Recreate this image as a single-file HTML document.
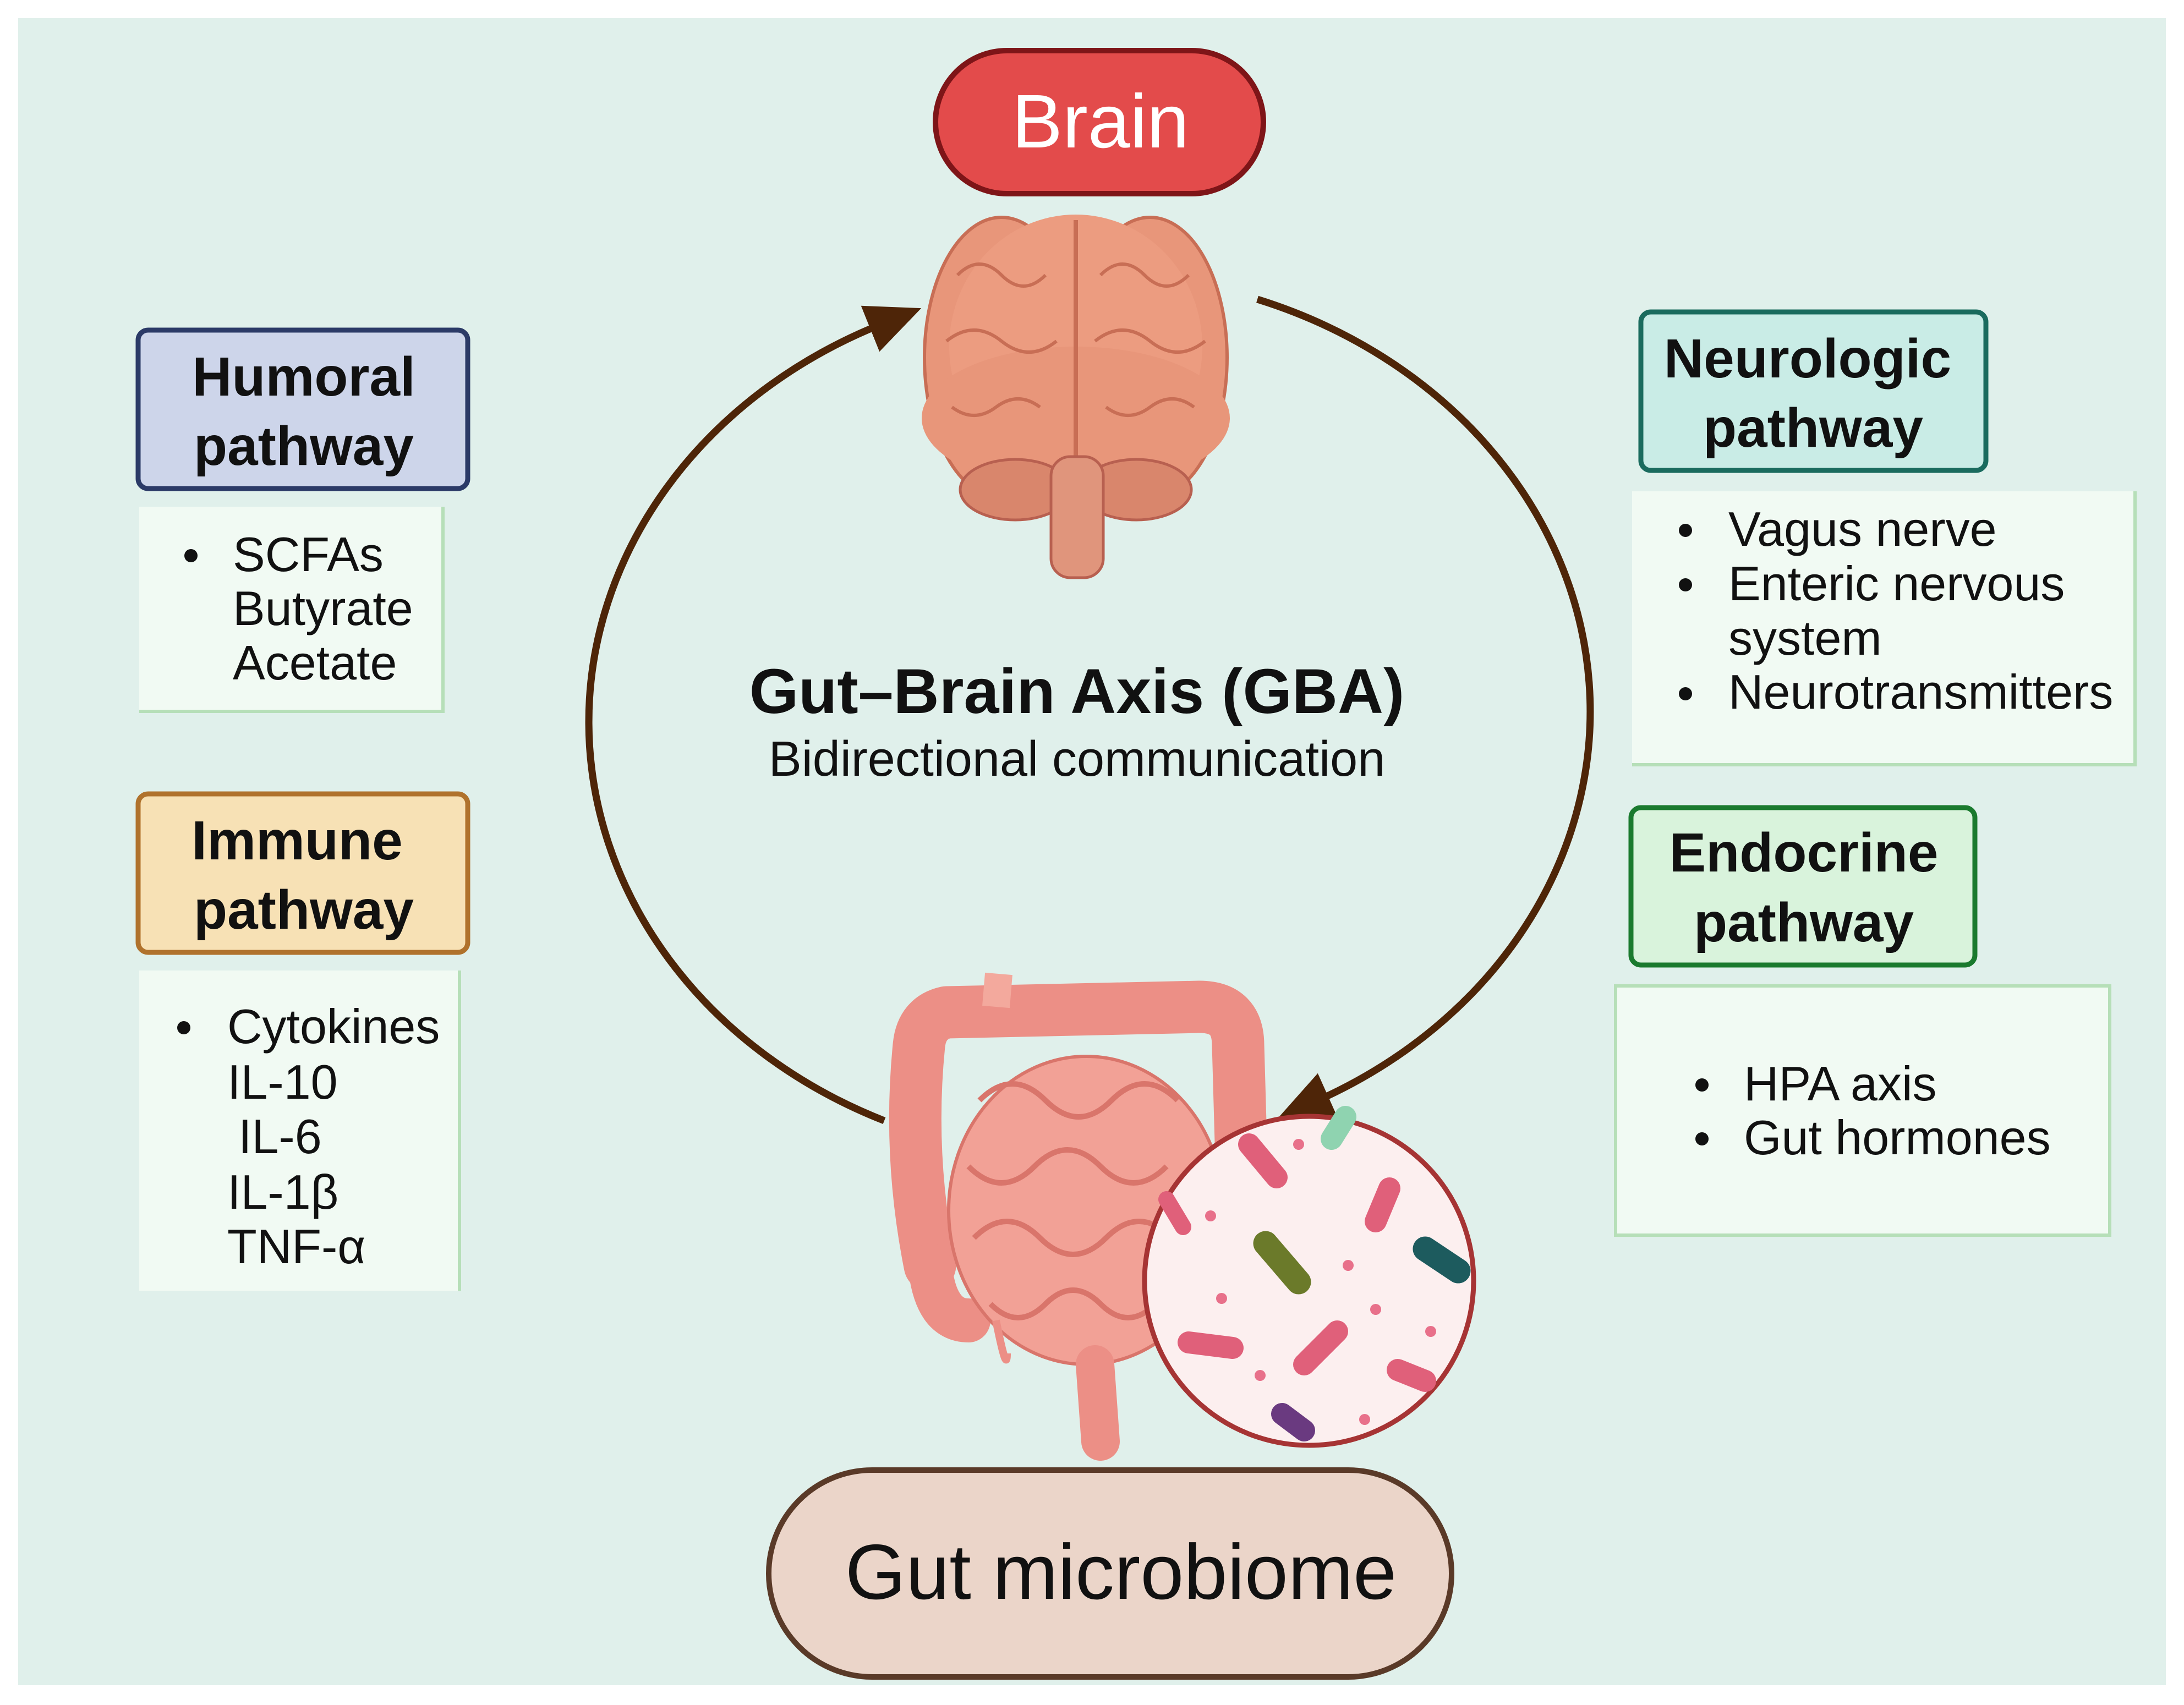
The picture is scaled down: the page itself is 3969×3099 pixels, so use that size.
<!DOCTYPE html>
<html><head><meta charset="utf-8"><style>
html,body{margin:0;padding:0;background:#fff}
svg{display:block}
text{font-family:"Liberation Sans","DejaVu Sans",sans-serif}
</style></head><body>
<svg width="3969" height="3099" viewBox="0 0 3969 3099" xmlns="http://www.w3.org/2000/svg">
<defs>
<marker id="ah" markerUnits="userSpaceOnUse" markerWidth="110" markerHeight="110" refX="20" refY="45" orient="auto">
<path d="M0,0 L100,45 L0,90 Z" fill="#4e2508"/>
</marker>
</defs>
<rect x="0" y="0" width="3969" height="3099" fill="#fff"/>
<rect x="33" y="33" width="3903" height="3030" fill="#e0f0eb"/>

<!-- arcs -->
<path d="M1607,2037 A911,795 0 0,1 1600,590" fill="none" stroke="#4e2508" stroke-width="13" marker-end="url(#ah)"/>
<path d="M2285,544 A911,795 0 0,1 2395,2000" fill="none" stroke="#4e2508" stroke-width="13" marker-end="url(#ah)"/>

<!-- Brain pill -->
<rect x="1700" y="92" width="596" height="260" rx="130" fill="#e34b4b" stroke="#7e1518" stroke-width="10"/>
<text x="2000" y="268" font-size="138" fill="#fff" text-anchor="middle">Brain</text>

<!-- Brain illustration -->
<g>
<ellipse cx="1820" cy="650" rx="140" ry="255" fill="#e8967a" stroke="#c86e55" stroke-width="6"/>
<ellipse cx="2090" cy="650" rx="140" ry="255" fill="#e8967a" stroke="#c86e55" stroke-width="6"/>
<ellipse cx="1955" cy="630" rx="230" ry="240" fill="#ec9c80"/>
<ellipse cx="1955" cy="760" rx="280" ry="130" fill="#e8967a"/>
<path d="M1955,400 L1955,860" stroke="#c86e55" stroke-width="8"/>
<ellipse cx="1845" cy="890" rx="100" ry="55" fill="#d9866c" stroke="#b86050" stroke-width="5"/>
<ellipse cx="2065" cy="890" rx="100" ry="55" fill="#d9866c" stroke="#b86050" stroke-width="5"/>
<rect x="1910" y="830" width="95" height="220" rx="35" fill="#e0957c" stroke="#b86050" stroke-width="5"/>
<g fill="none" stroke="#c86e55" stroke-width="6">
<path d="M1740,500 q40,-40 80,0 t80,0"/><path d="M2000,500 q40,-40 80,0 t80,0"/>
<path d="M1720,620 q50,-40 100,0 t100,0"/><path d="M1990,620 q50,-40 100,0 t100,0"/>
<path d="M1730,740 q40,30 80,0 t80,0"/><path d="M2010,740 q40,30 80,0 t80,0"/>
</g>
</g>

<!-- Title -->
<text x="1957" y="1296" font-size="115" font-weight="bold" text-anchor="middle" fill="#111">Gut–Brain Axis (GBA)</text>
<text x="1957" y="1410" font-size="90" text-anchor="middle" fill="#111">Bidirectional communication</text>

<!-- Humoral -->
<rect x="251" y="600" width="599" height="288" rx="18" fill="#cdd5ea" stroke="#2b3a67" stroke-width="9"/>
<text x="552" y="719" font-size="100" font-weight="bold" text-anchor="middle" fill="#111">Humoral</text>
<text x="552" y="845" font-size="100" font-weight="bold" text-anchor="middle" fill="#111">pathway</text>
<rect x="253" y="921" width="552" height="372" fill="#f1faf3"/>
<path d="M805,921 V1293 H253" fill="none" stroke="#b6dfb8" stroke-width="6"/>
<g font-size="88" fill="#111">
<circle cx="347" cy="1010" r="12" fill="#111"/>
<text x="423" y="1038">SCFAs</text><text x="423" y="1136">Butyrate</text><text x="423" y="1235">Acetate</text>
</g>

<!-- Immune -->
<rect x="251" y="1443" width="599" height="288" rx="18" fill="#f7e1b5" stroke="#b0722c" stroke-width="9"/>
<text x="540" y="1562" font-size="100" font-weight="bold" text-anchor="middle" fill="#111">Immune</text>
<text x="552" y="1688" font-size="100" font-weight="bold" text-anchor="middle" fill="#111">pathway</text>
<rect x="253" y="1764" width="582" height="582" fill="#f1faf3"/>
<path d="M835,1764 V2346" fill="none" stroke="#b6dfb8" stroke-width="6"/>
<g font-size="88" fill="#111">
<circle cx="334" cy="1868" r="12" fill="#111"/>
<text x="413" y="1896">Cytokines</text><text x="413" y="1997">IL-10</text><text x="433" y="2096">IL-6</text><text x="413" y="2197">IL-1β</text><text x="413" y="2296">TNF-α</text>
</g>

<!-- Neurologic -->
<rect x="2982" y="567" width="627" height="288" rx="18" fill="#c9ece6" stroke="#1a6b5e" stroke-width="9"/>
<text x="3285" y="686" font-size="100" font-weight="bold" text-anchor="middle" fill="#111">Neurologic</text>
<text x="3295" y="812" font-size="100" font-weight="bold" text-anchor="middle" fill="#111">pathway</text>
<rect x="2966" y="893" width="914" height="497" fill="#f1faf3"/>
<path d="M3880,893 V1390 H2966" fill="none" stroke="#b6dfb8" stroke-width="6"/>
<g font-size="88" fill="#111">
<circle cx="3063" cy="964" r="12"/><circle cx="3063" cy="1063" r="12"/><circle cx="3063" cy="1261" r="12"/>
<text x="3141" y="992">Vagus nerve</text><text x="3141" y="1091">Enteric nervous</text><text x="3141" y="1190">system</text><text x="3141" y="1288">Neurotransmitters</text>
</g>

<!-- Endocrine -->
<rect x="2964" y="1468" width="625" height="286" rx="18" fill="#d9f3dc" stroke="#1a7a2e" stroke-width="9"/>
<text x="3278" y="1584" font-size="100" font-weight="bold" text-anchor="middle" fill="#111">Endocrine</text>
<text x="3278" y="1711" font-size="100" font-weight="bold" text-anchor="middle" fill="#111">pathway</text>
<rect x="2936" y="1792" width="898" height="453" fill="#f1faf3" stroke="#b6dfb8" stroke-width="6"/>
<g font-size="88" fill="#111">
<circle cx="3093" cy="1972" r="12"/><circle cx="3093" cy="2070" r="12"/>
<text x="3169" y="2000">HPA axis</text><text x="3169" y="2098">Gut hormones</text>
</g>

<!-- Intestine -->
<g>
<path d="M1690,2300 Q1650,2100 1670,1900 Q1675,1850 1720,1840 L2180,1830 Q2250,1830 2250,1900 L2260,2250" fill="none" stroke="#ec8f86" stroke-width="95" stroke-linecap="round" stroke-linejoin="round"/>
<path d="M1690,2300 Q1700,2400 1760,2400" fill="none" stroke="#ec8f86" stroke-width="80" stroke-linecap="round"/>
<path d="M1810,1830 L1815,1770" stroke="#f3a99d" stroke-width="50"/>
<ellipse cx="1974" cy="2200" rx="250" ry="280" fill="#f2a196" stroke="#d9756b" stroke-width="6"/>
<g fill="none" stroke="#d9756b" stroke-width="10">
<path d="M1780,2000 q60,-60 120,0 t120,0 t120,0"/><path d="M1760,2120 q60,60 120,0 t120,0 t120,0"/><path d="M1770,2250 q60,-60 120,0 t120,0 t120,0"/><path d="M1800,2370 q50,50 100,0 t100,0 t100,0"/>
</g>
<path d="M1810,2400 q20,100 20,60" fill="none" stroke="#ec8f86" stroke-width="14"/>
<path d="M1990,2480 L2000,2620" stroke="#ec8f86" stroke-width="70" stroke-linecap="round"/>
</g>

<!-- Microbe circle -->
<circle cx="2379" cy="2328" r="299" fill="#fcefef" stroke="#a63434" stroke-width="9"/>
<g stroke-linecap="round">
<path d="M2270,2080 L2320,2140" stroke="#e0607a" stroke-width="40"/>
<path d="M2420,2070 L2445,2030" stroke="#8fd3b0" stroke-width="40"/>
<path d="M2500,2220 L2525,2160" stroke="#e0607a" stroke-width="40"/>
<path d="M2300,2260 L2360,2330" stroke="#6b7a2a" stroke-width="45"/>
<path d="M2590,2270 L2650,2310" stroke="#1d5b5e" stroke-width="45"/>
<path d="M2160,2440 L2240,2450" stroke="#e0607a" stroke-width="40"/>
<path d="M2370,2480 L2430,2420" stroke="#e0607a" stroke-width="40"/>
<path d="M2540,2490 L2590,2510" stroke="#e0607a" stroke-width="40"/>
<path d="M2330,2570 L2370,2600" stroke="#6a3a80" stroke-width="40"/>
<path d="M2120,2180 L2150,2230" stroke="#e0607a" stroke-width="30"/>
</g>
<g fill="#e8708a">
<circle cx="2360" cy="2080" r="10"/><circle cx="2200" cy="2210" r="10"/><circle cx="2450" cy="2300" r="10"/><circle cx="2220" cy="2360" r="10"/><circle cx="2600" cy="2420" r="10"/><circle cx="2290" cy="2500" r="10"/><circle cx="2480" cy="2580" r="10"/><circle cx="2500" cy="2380" r="10"/>
</g>

<!-- Gut microbiome pill -->
<rect x="1397" y="2672" width="1241" height="376" rx="188" fill="#ebd5c9" stroke="#5a3a28" stroke-width="10"/>
<text x="2037" y="2906" font-size="142" text-anchor="middle" fill="#111">Gut microbiome</text>
</svg>
</body></html>
